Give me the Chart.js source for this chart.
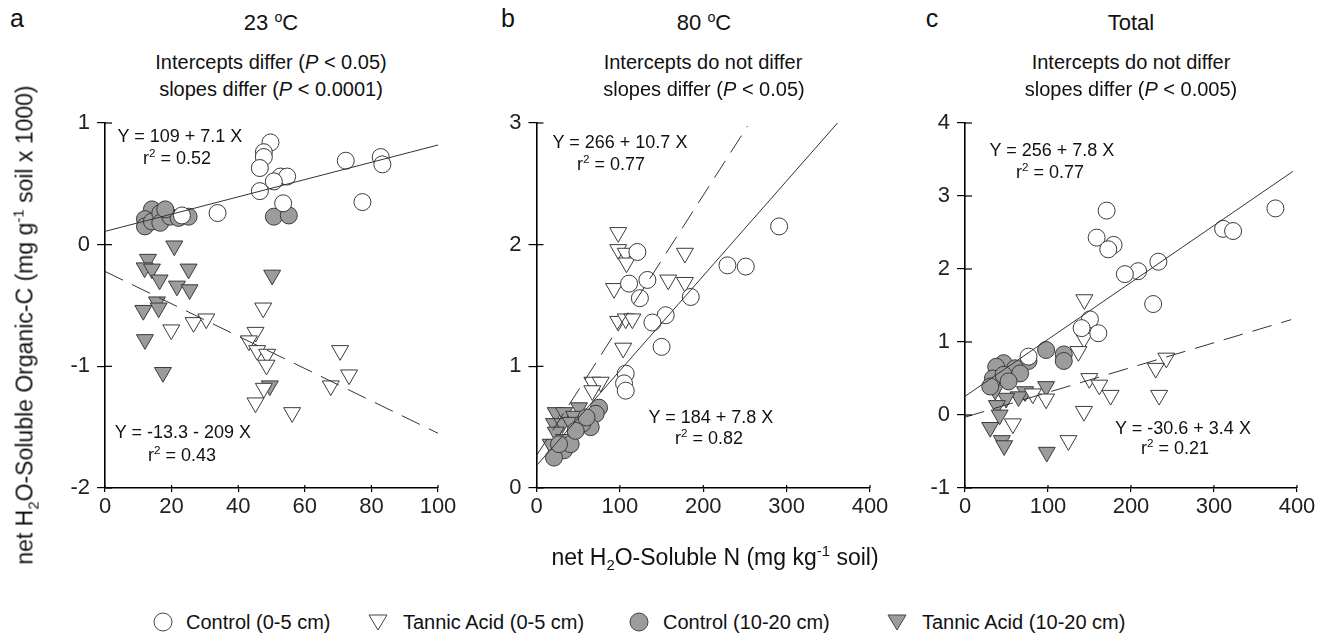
<!DOCTYPE html>
<html>
<head>
<meta charset="utf-8">
<script src="https://cdn.jsdelivr.net/npm/chart.js@4.4.1/dist/chart.umd.min.js"></script>
<style>
  html, body { margin: 0; padding: 0; background: #fff; }
  body { width: 1330px; height: 639px; position: relative; overflow: hidden;
         font-family: "Liberation Sans", Arial, Helvetica, sans-serif; color: #111; }
  canvas { position: absolute; }
  .t { position: absolute; white-space: nowrap; transform: translate(-50%, -50%); line-height: 1; }
  .eq { font-size: 18px; }
  .ttl1 { font-size: 22px; }
  .ttl2 { font-size: 20px; }
  .let { font-size: 25px; }
  sup, sub { font-size: 65%; line-height: 0; }
  .lg { position: absolute; top: 622px; transform: translateY(-50%); font-size: 20px; white-space: nowrap; line-height: 1; }
  .mk { position: absolute; top: 622px; transform: translate(-50%, -50%); }
</style>
</head>
<body>
<canvas id="ca" width="440" height="460" style="left:40px;top:100px"></canvas>
<canvas id="cb" width="440" height="460" style="left:470px;top:100px"></canvas>
<canvas id="cc" width="440" height="460" style="left:898px;top:100px"></canvas>

<div class="t let" style="left:17px;top:18px">a</div>
<div class="t let" style="left:508px;top:18px">b</div>
<div class="t let" style="left:932px;top:18px">c</div>

<div class="t ttl1" style="left:271px;top:23px">23 <sup>o</sup>C</div>
<div class="t ttl2" style="left:271px;top:62px">Intercepts differ (<i>P</i> &lt; 0.05)</div>
<div class="t ttl2" style="left:271px;top:89px">slopes differ (<i>P</i> &lt; 0.0001)</div>

<div class="t ttl1" style="left:704px;top:23px">80 <sup>o</sup>C</div>
<div class="t ttl2" style="left:703px;top:62px">Intercepts do not differ</div>
<div class="t ttl2" style="left:704px;top:89px">slopes differ (<i>P</i> &lt; 0.05)</div>

<div class="t ttl1" style="left:1131px;top:23px">Total</div>
<div class="t ttl2" style="left:1131px;top:62px">Intercepts do not differ</div>
<div class="t ttl2" style="left:1131px;top:89px">slopes differ (<i>P</i> &lt; 0.005)</div>

<div class="t eq" style="left:180px;top:136px">Y = 109 + 7.1 X</div>
<div class="t eq" style="left:177px;top:158px">r<sup>2</sup> = 0.52</div>
<div class="t eq" style="left:183px;top:432px">Y = -13.3 - 209 X</div>
<div class="t eq" style="left:182px;top:455px">r<sup>2</sup> = 0.43</div>

<div class="t eq" style="left:620px;top:142px">Y = 266 + 10.7 X</div>
<div class="t eq" style="left:611px;top:164px">r<sup>2</sup> = 0.77</div>
<div class="t eq" style="left:711px;top:417px">Y = 184 + 7.8 X</div>
<div class="t eq" style="left:709px;top:438px">r<sup>2</sup> = 0.82</div>

<div class="t eq" style="left:1052px;top:150px">Y = 256 + 7.8 X</div>
<div class="t eq" style="left:1050px;top:172px">r<sup>2</sup> = 0.77</div>
<div class="t eq" style="left:1183px;top:428px">Y = -30.6 + 3.4 X</div>
<div class="t eq" style="left:1175px;top:448px">r<sup>2</sup> = 0.21</div>

<div class="t" style="left:25px;top:325px;font-size:23px;transform:translate(-50%,-50%) rotate(-90deg)">net H<sub>2</sub>O-Soluble Organic-C (mg g<sup>-1</sup> soil x 1000)</div>
<div class="t" style="left:715px;top:557px;font-size:23px">net H<sub>2</sub>O-Soluble N (mg kg<sup>-1</sup> soil)</div>

<svg class="mk" style="left:163px" width="22" height="22"><circle cx="11" cy="11" r="9" fill="#fff" stroke="#444" stroke-width="1"/></svg>
<div class="lg" style="left:186px">Control (0-5 cm)</div>
<svg class="mk" style="left:378px" width="22" height="22"><polygon points="2,4 20,4 11,19" fill="#fff" stroke="#444" stroke-width="1"/></svg>
<div class="lg" style="left:403px">Tannic Acid (0-5 cm)</div>
<svg class="mk" style="left:639px" width="22" height="22"><circle cx="11" cy="11" r="9" fill="#9c9c9c" stroke="#444" stroke-width="1"/></svg>
<div class="lg" style="left:663px">Control (10-20 cm)</div>
<svg class="mk" style="left:897px" width="22" height="22"><polygon points="2,4 20,4 11,19" fill="#9c9c9c" stroke="#444" stroke-width="1"/></svg>
<div class="lg" style="left:922px">Tannic Acid (10-20 cm)</div>

<script>
// ---------- Panel a : 23 °C ----------
const aCtrl05X = [49.7,47.7,47.7,46.5,72.3,82.8,83.3,52.7,54.7,50.7,46.5,53.5,77.3,33.8,23.1];
const aCtrl05Y = [0.84,0.76,0.72,0.63,0.69,0.72,0.66,0.56,0.56,0.52,0.44,0.34,0.35,0.26,0.24];
const aTa05X   = [19.9,26.6,30.4,47.5,45.2,43.2,45.7,48.7,48.5,70.6,73.3,67.8,47.7,45.2,56.2];
const aTa05Y   = [-0.70,-0.64,-0.61,-0.52,-0.72,-0.79,-0.87,-0.90,-0.99,-0.87,-1.07,-1.16,-1.18,-1.30,-1.38];
const aCtrl20X = [14.1,12.0,12.0,14.1,16.6,16.6,19.6,22.1,25.1,50.7,55.2,18.1];
const aCtrl20Y = [0.29,0.21,0.15,0.19,0.26,0.18,0.23,0.22,0.23,0.23,0.24,0.29];
const aTa20X   = [20.8,12.9,11.9,14.1,25.1,16.4,21.6,25.4,50.2,15.6,11.5,16.1,12.0,17.4,49.5];
const aTa20Y   = [-0.01,-0.12,-0.19,-0.20,-0.20,-0.29,-0.34,-0.37,-0.25,-0.47,-0.54,-0.52,-0.78,-1.05,-1.16];
// fitted lines [solid (control), dashed (tannic)]
const aFitIntercept = [0.109, -0.22];
const aFitSlope     = [0.0071, -0.0133];
const aFitXmax      = [100, 100];

// ---------- Panel b : 80 °C ----------
const bCtrl05X = [291,229,251,121,111,133,124,185,155,139,150,107,105,107];
const bCtrl05Y = [2.15,1.83,1.82,1.94,1.68,1.71,1.56,1.57,1.42,1.36,1.16,0.94,0.86,0.80];
const bTa05X   = [98,98,107,108,178,158,178,93,98,107,115,104,67,77,67];
const bTa05Y   = [2.10,1.96,1.93,1.85,1.93,1.71,1.69,1.64,1.37,1.39,1.39,1.15,0.87,0.87,0.80];
const bCtrl20X = [75,71,65,55,33,21,41,27,47,60];
const bCtrl20Y = [0.66,0.61,0.50,0.53,0.31,0.25,0.36,0.36,0.47,0.58];
const bTa20X   = [23,33,51,45,21,31,23,17,33,41];
const bTa20Y   = [0.62,0.62,0.66,0.59,0.53,0.53,0.46,0.36,0.40,0.54];
const bFitIntercept = [0.184, 0.266];
const bFitSlope     = [0.0078, 0.0107];
const bFitXmax      = [362, 253];

// ---------- Panel c : Total ----------
const cCtrl05X = [170.6,374,311,323,158.6,179,172.6,233,208.6,192.6,226.7,150.5,140.5,160.6,76.5];
const cCtrl05Y = [2.80,2.83,2.55,2.52,2.43,2.33,2.27,2.10,1.97,1.93,1.52,1.31,1.19,1.12,0.80];
const cTa05X   = [143.8,143.3,136.6,242.6,229.8,149.8,161.8,175.4,233.9,97.7,81.7,143.3,57.7,124.6];
const cTa05Y   = [1.58,1.05,0.87,0.78,0.64,0.50,0.41,0.27,0.27,0.22,0.29,0.05,-0.12,-0.35];
const cCtrl20X = [97.7,119,119,76.5,46.5,37.6,60.4,66.4,33.6,46.5,30.4,52.5];
const cCtrl20Y = [0.89,0.83,0.74,0.74,0.71,0.66,0.64,0.57,0.50,0.55,0.39,0.46];
const cTa20X   = [97.7,36.4,54.4,72.4,64.5,49.6,38.4,41.7,30.4,44.4,47.2,98.5,36.4];
const cTa20Y   = [0.39,0.46,0.52,0.32,0.25,0.23,0.13,0.00,-0.17,-0.35,-0.42,-0.51,0.34];
const cFitIntercept = [0.256, -0.03];
const cFitSlope     = [0.0078, 0.0034];
const cFitXmax      = [395, 393];

// axis ranges / ticks
const aXTicks = [0,20,40,60,80,100], aYTicks = [-2,-1,0,1];
const bXTicks = [0,100,200,300,400], bYTicks = [0,1,2,3];
const cXTicks = [0,100,200,300,400], cYTicks = [-1,0,1,2,3,4];

const FONT = "'Liberation Sans', Arial, Helvetica, sans-serif";
const GRAY = '#9c9c9c', EDGE = '#3a3a3a';

function zip(xs, ys) { return xs.map((x, i) => ({ x: x, y: ys[i] })); }
function fitLine(b0, b1, xmax) { return [0, xmax].map(x => ({ x: x, y: b0 + b1 * x })); }

const crossTicks = {
  id: 'crossTicks',
  afterDraw(chart) {
    const ctx = chart.ctx, a = chart.chartArea;
    ctx.save();
    ctx.strokeStyle = '#000'; ctx.lineWidth = 1.2;
    chart.scales.y.ticks.forEach(t => {
      const p = chart.scales.y.getPixelForValue(t.value);
      ctx.beginPath(); ctx.moveTo(a.left, p); ctx.lineTo(a.left + 7, p); ctx.stroke();
    });
    chart.scales.x.ticks.forEach(t => {
      const p = chart.scales.x.getPixelForValue(t.value);
      ctx.beginPath(); ctx.moveTo(p, a.bottom); ctx.lineTo(p, a.bottom - 3); ctx.stroke();
    });
    ctx.restore();
  }
};

function makePanel(id, canvasLeft, areaLeft, areaRight, sets, fitB0, fitB1, fitXmax, xTicks, yTicks) {
  const W = 440, top = 100, areaTop = 123, areaBottom = 488;
  const pt = (data, fill, style, r) => ({
    type: 'scatter', data: data, backgroundColor: fill, borderColor: EDGE, borderWidth: 1,
    pointStyle: style, pointRadius: r, pointHoverRadius: r, pointRotation: style === 'triangle' ? 180 : 0
  });
  const ln = (data, dash) => ({
    type: 'line', data: data, borderColor: '#333', borderWidth: 1, borderDash: dash,
    pointRadius: 0, fill: false, tension: 0
  });
  const datasets = [
    ln(fitLine(fitB0[0], fitB1[0], fitXmax[0]), []),
    ln(fitLine(fitB0[1], fitB1[1], fitXmax[1]), [20, 10]),
    pt(zip(sets[0][0], sets[0][1]), '#fff', 'circle', 8.5),
    pt(zip(sets[1][0], sets[1][1]), '#fff', 'triangle', 9.8),
    pt(zip(sets[2][0], sets[2][1]), GRAY, 'circle', 8.5),
    pt(zip(sets[3][0], sets[3][1]), GRAY, 'triangle', 9.8)
  ];
  const tickFont = { family: FONT, size: 22 };
  new Chart(document.getElementById(id), {
    type: 'scatter',
    data: { datasets: datasets },
    options: {
      responsive: false, animation: false, devicePixelRatio: 1,
      layout: { padding: { left: 0, right: W - (areaRight - canvasLeft), top: areaTop - top, bottom: 0 } },
      plugins: { legend: { display: false }, tooltip: { enabled: false } },
      scales: {
        x: {
          type: 'linear', min: xTicks[0], max: xTicks[xTicks.length - 1],
          afterBuildTicks: s => { s.ticks = xTicks.map(v => ({ value: v })); },
          afterFit: s => { s.height = 460 - (areaBottom - top); },
          grid: { display: true, drawOnChartArea: false, drawTicks: true, tickLength: 4, color: '#000', lineWidth: 1.2 },
          border: { display: true, color: '#000', width: 1.6 },
          ticks: { font: tickFont, color: '#222', padding: 2, maxRotation: 0 }
        },
        y: {
          type: 'linear', min: yTicks[0], max: yTicks[yTicks.length - 1],
          afterBuildTicks: s => { s.ticks = yTicks.map(v => ({ value: v })); },
          afterFit: s => { s.width = areaLeft - canvasLeft; },
          grid: { display: true, drawOnChartArea: false, drawTicks: true, tickLength: 8, color: '#000', lineWidth: 1.2 },
          border: { display: true, color: '#000', width: 1.6 },
          ticks: { font: tickFont, color: '#222', padding: 7 }
        }
      }
    },
    plugins: [crossTicks]
  });
}

makePanel('ca', 40, 105, 438,
  [[aCtrl05X, aCtrl05Y], [aTa05X, aTa05Y], [aCtrl20X, aCtrl20Y], [aTa20X, aTa20Y]],
  aFitIntercept, aFitSlope, aFitXmax, aXTicks, aYTicks);
makePanel('cb', 470, 536.5, 870,
  [[bCtrl05X, bCtrl05Y], [bTa05X, bTa05Y], [bCtrl20X, bCtrl20Y], [bTa20X, bTa20Y]],
  bFitIntercept, bFitSlope, bFitXmax, bXTicks, bYTicks);
makePanel('cc', 898, 965, 1297,
  [[cCtrl05X, cCtrl05Y], [cTa05X, cTa05Y], [cCtrl20X, cCtrl20Y], [cTa20X, cTa20Y]],
  cFitIntercept, cFitSlope, cFitXmax, cXTicks, cYTicks);
</script>
</body>
</html>
